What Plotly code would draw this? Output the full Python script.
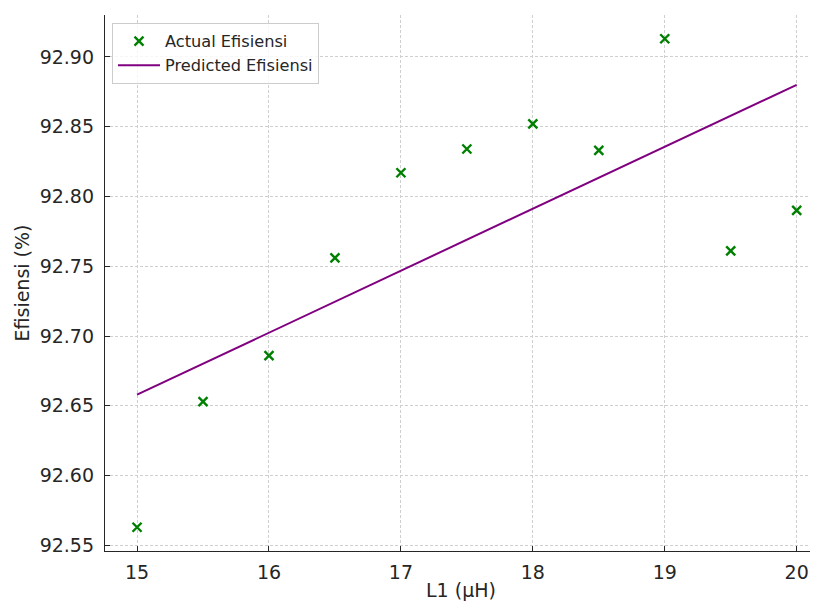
import plotly.graph_objects as go

L1_uH = [15, 15.5, 16, 16.5, 17, 17.5, 18, 18.5, 19, 19.5, 20]
actual_efisiensi = [92.563, 92.653, 92.686, 92.756, 92.817, 92.834, 92.852, 92.833, 92.913, 92.761, 92.790]
pred_x = [15, 20]
pred_efisiensi = [92.658, 92.880]

fig = go.Figure()
fig.add_trace(go.Scatter(
    x=L1_uH, y=actual_efisiensi, mode="markers", name="Actual Efisiensi",
    marker=dict(symbol="x-thin", size=9, color="green", line=dict(width=2.4, color="green")),
))
fig.add_trace(go.Scatter(
    x=pred_x, y=pred_efisiensi, mode="lines", name="Predicted Efisiensi",
    line=dict(color="purple", width=2),
))

axis_common = dict(
    showline=True, linecolor="#262626", linewidth=1.3, mirror=False,
    ticks="inside", ticklen=5, tickwidth=1.2, tickcolor="#262626",
    showgrid=True, gridcolor="#cfcfcf", griddash="3px,2px", gridwidth=0.9,
    zeroline=False,
    tickfont=dict(family="DejaVu Sans", size=19, color="#262626"),
)

fig.update_layout(
    width=810, height=593,
    margin=dict(l=97, r=1, t=7, b=50),
    paper_bgcolor="white", plot_bgcolor="white",
    font=dict(family="DejaVu Sans", color="#262626"),
    showlegend=True,
    legend=dict(
        x=0.0098, y=0.985, xanchor="left", yanchor="top",
        bgcolor="rgba(255,255,255,0.8)", bordercolor="#cccccc", borderwidth=1,
        font=dict(family="DejaVu Sans", size=16.2, color="#262626"),
        tracegroupgap=0, itemwidth=42,
    ),
    xaxis=dict(
        axis_common, range=[14.757, 20.154], dtick=1, tick0=15,
        ticklabelstandoff=4,
        title=dict(text="L1 (μH)", font=dict(family="DejaVu Sans", size=19, color="#262626"), standoff=4),
    ),
    yaxis=dict(
        axis_common, range=[92.546, 92.930], dtick=0.05, tick0=92.55, tickformat=".2f",
        ticklabelstandoff=6,
        title=dict(text="Efisiensi (%)", font=dict(family="DejaVu Sans", size=19, color="#262626"), standoff=4),
    ),
)

fig.write_html("out.html")
